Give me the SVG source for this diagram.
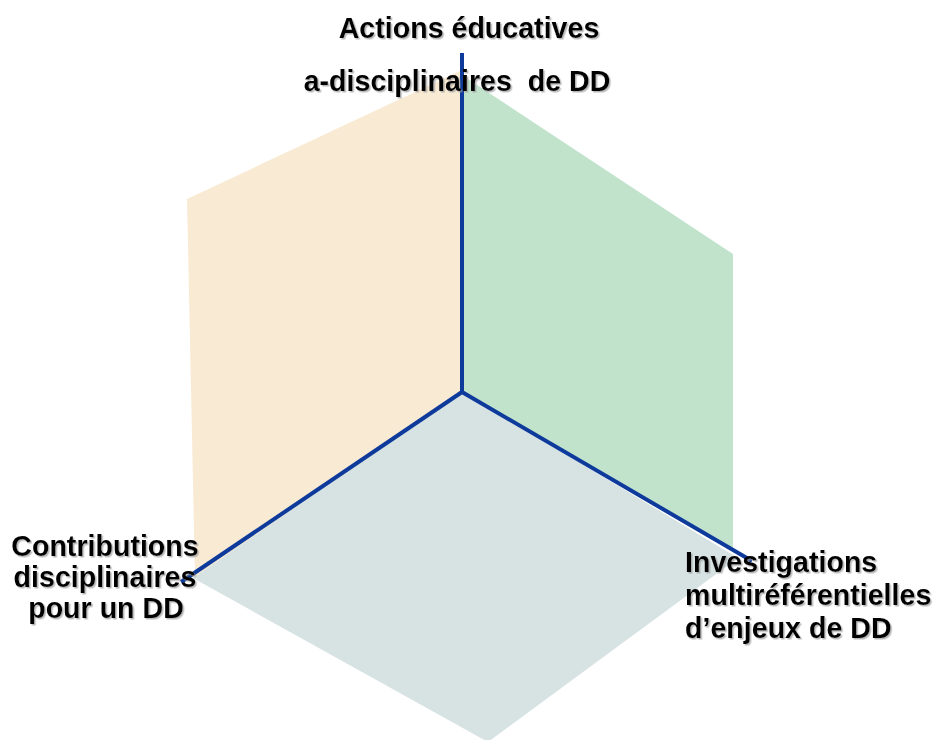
<svg xmlns="http://www.w3.org/2000/svg" width="936" height="740" viewBox="0 0 936 740">
<defs>
<filter id="sh" x="-5%" y="-20%" width="110%" height="140%">
<feDropShadow dx="1.5" dy="1.5" stdDeviation="0.6" flood-color="#999" flood-opacity="0.7"/>
</filter>
<style>
.lbl{font-family:"Liberation Sans",Arial,sans-serif;font-weight:bold;font-size:28.6px;fill:#000;filter:url(#sh)}
.axis{stroke:#0d3a9b;stroke-width:4;fill:none;stroke-linecap:butt}
</style>
</defs>
<rect width="936" height="740" fill="#fff"/>
<g id="face-left"><polygon points="462,392 462,70 187,199 195,577" fill="#f9ead3"/></g>
<g id="face-right"><polygon points="462,392 462,75 733,254 733,549" fill="#c1e3cc"/></g>
<g id="face-bottom"><polygon points="462,392 193,578 488,742 738,558" fill="#d7e2e2"/></g>
<g id="connectors">
<line class="axis" x1="462" y1="53" x2="462" y2="392"/>
<line class="axis" x1="462" y1="392" x2="181" y2="582"/>
<line class="axis" x1="462" y1="392" x2="752" y2="561"/>
</g>
<g id="node-top">
<text class="lbl" x="469" y="38" text-anchor="middle">Actions éducatives</text>
<text class="lbl" x="457" y="91" text-anchor="middle" xml:space="preserve">a-disciplinaires  de DD</text>
</g>
<g id="node-left">
<text class="lbl" x="105" y="556" text-anchor="middle">Contributions</text>
<text class="lbl" x="105" y="587" text-anchor="middle">disciplinaires</text>
<text class="lbl" x="106" y="618" text-anchor="middle">pour un DD</text>
</g>
<g id="node-right">
<text class="lbl" x="685" y="572">Investigations</text>
<text class="lbl" x="685" y="605">multiréférentielles</text>
<text class="lbl" x="685" y="638">d’enjeux de DD</text>
</g>
</svg>
